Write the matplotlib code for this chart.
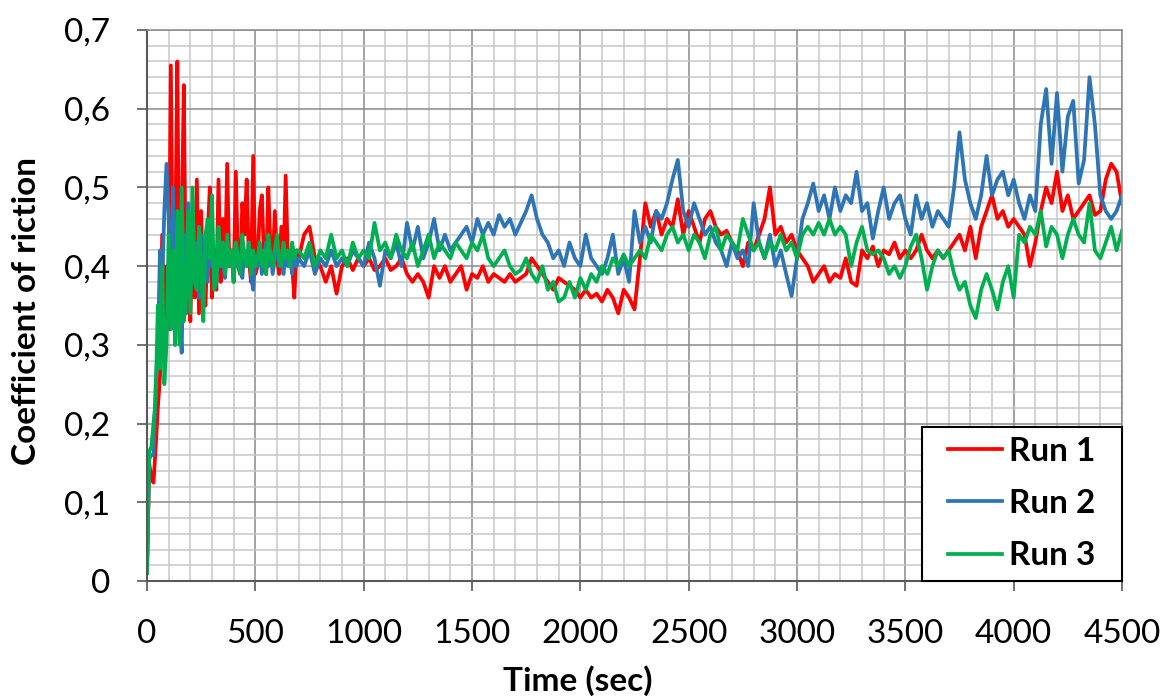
import matplotlib
matplotlib.use("Agg")
import matplotlib.pyplot as plt
import numpy as np
from matplotlib.ticker import MultipleLocator, FuncFormatter
from matplotlib.patches import Rectangle

# sampling grid (s): fine during the running-in phase, coarser afterwards
t_early = np.arange(0, 701, 10)
t_late = np.arange(725, 4501, 25)

run1_early = [0.01, 0.15, 0.13, 0.125, 0.17, 0.22, 0.26, 0.44, 0.28, 0.40,
              0.32, 0.655, 0.35, 0.42, 0.66, 0.32, 0.45, 0.63, 0.34, 0.40,
              0.33, 0.44, 0.36, 0.51, 0.34, 0.47, 0.36, 0.35, 0.44, 0.50,
              0.36, 0.42, 0.37, 0.51, 0.38, 0.46, 0.39, 0.53, 0.40, 0.42,
              0.38, 0.52, 0.40, 0.39, 0.48, 0.44, 0.51, 0.41, 0.38, 0.54,
              0.39, 0.40, 0.47, 0.49, 0.41, 0.39, 0.50, 0.42, 0.40, 0.47,
              0.41, 0.39, 0.45, 0.40, 0.515, 0.41, 0.42, 0.40, 0.36, 0.42,
              0.41]
run2_early = [0.01, 0.155, 0.16, 0.16, 0.25, 0.30, 0.42, 0.38, 0.47, 0.53,
              0.46, 0.32, 0.50, 0.30, 0.45, 0.36, 0.29, 0.44, 0.34, 0.48,
              0.37, 0.45, 0.38, 0.43, 0.36, 0.44, 0.39, 0.42, 0.38, 0.43,
              0.40, 0.41, 0.38, 0.42, 0.40, 0.41, 0.385, 0.42, 0.40, 0.41,
              0.39, 0.43, 0.40, 0.41, 0.385, 0.42, 0.40, 0.43, 0.39, 0.37,
              0.41, 0.40, 0.42, 0.39, 0.41, 0.43, 0.40, 0.42, 0.39, 0.41,
              0.43, 0.40, 0.41, 0.39, 0.42, 0.40, 0.41, 0.39, 0.42, 0.40,
              0.41]
run3_early = [0.01, 0.165, 0.17, 0.20, 0.23, 0.35, 0.27, 0.40, 0.25, 0.30,
              0.44, 0.32, 0.42, 0.30, 0.47, 0.30, 0.50, 0.33, 0.36, 0.47,
              0.34, 0.50, 0.38, 0.37, 0.45, 0.40, 0.33, 0.44, 0.46, 0.41,
              0.49, 0.37, 0.38, 0.45, 0.40, 0.43, 0.39, 0.44, 0.40, 0.42,
              0.38, 0.43, 0.41, 0.39, 0.44, 0.41, 0.40, 0.43, 0.39, 0.42,
              0.40, 0.41, 0.43, 0.40, 0.42, 0.39, 0.44, 0.41, 0.40, 0.42,
              0.44, 0.41, 0.40, 0.43, 0.41, 0.42, 0.40, 0.43, 0.41, 0.42,
              0.42]

run1_late = [0.44, 0.45, 0.41, 0.40, 0.38, 0.40, 0.365, 0.40,
             0.41, 0.395, 0.41, 0.40, 0.41, 0.395, 0.40, 0.41,
             0.395, 0.40, 0.41, 0.39, 0.38, 0.39, 0.38, 0.36,
             0.40, 0.385, 0.40, 0.38, 0.39, 0.40, 0.37, 0.39,
             0.385, 0.40, 0.38, 0.39, 0.385, 0.38, 0.39, 0.38,
             0.385, 0.39, 0.41, 0.40, 0.39, 0.38, 0.37, 0.385,
             0.38, 0.375, 0.37, 0.36, 0.37, 0.36, 0.365, 0.355,
             0.37, 0.36, 0.34, 0.37, 0.36, 0.345, 0.41, 0.48,
             0.45, 0.47, 0.44, 0.46, 0.45, 0.485, 0.44, 0.47,
             0.45, 0.43, 0.46, 0.47, 0.45, 0.44, 0.445, 0.43,
             0.42, 0.40, 0.43, 0.42, 0.44, 0.46, 0.50, 0.44,
             0.45, 0.43, 0.44, 0.42, 0.41, 0.40, 0.38, 0.39,
             0.40, 0.38, 0.39, 0.385, 0.41, 0.38, 0.375, 0.42,
             0.41, 0.425, 0.40, 0.42, 0.415, 0.43, 0.41, 0.42,
             0.41, 0.42, 0.44, 0.42, 0.41, 0.42, 0.41, 0.42,
             0.43, 0.44, 0.42, 0.45, 0.41, 0.45, 0.47, 0.49,
             0.46, 0.47, 0.45, 0.46, 0.45, 0.44, 0.40, 0.43,
             0.47, 0.50, 0.48, 0.52, 0.47, 0.49, 0.46, 0.47,
             0.48, 0.49, 0.465, 0.47, 0.51, 0.53, 0.52, 0.48]
run2_late = [0.40, 0.42, 0.39, 0.41, 0.40, 0.42, 0.40, 0.41,
             0.40, 0.42, 0.41, 0.40, 0.43, 0.41, 0.375, 0.42,
             0.41, 0.43, 0.40, 0.455, 0.42, 0.45, 0.41, 0.43,
             0.46, 0.42, 0.44, 0.42, 0.43, 0.44, 0.45, 0.43,
             0.46, 0.44, 0.455, 0.44, 0.465, 0.45, 0.46, 0.44,
             0.455, 0.47, 0.49, 0.46, 0.44, 0.43, 0.41, 0.42,
             0.40, 0.43, 0.41, 0.40, 0.44, 0.41, 0.40, 0.39,
             0.41, 0.44, 0.39, 0.41, 0.38, 0.47, 0.43, 0.45,
             0.43, 0.47, 0.46, 0.48, 0.51, 0.535, 0.47, 0.45,
             0.48, 0.46, 0.44, 0.45, 0.43, 0.42, 0.40, 0.43,
             0.41, 0.42, 0.40, 0.48, 0.43, 0.41, 0.44, 0.40,
             0.42, 0.39, 0.362, 0.41, 0.46, 0.48, 0.505, 0.47,
             0.49, 0.46, 0.50, 0.47, 0.49, 0.48, 0.52, 0.47,
             0.48, 0.435, 0.47, 0.50, 0.46, 0.48, 0.49, 0.46,
             0.44, 0.49, 0.46, 0.48, 0.45, 0.47, 0.46, 0.45,
             0.50, 0.57, 0.51, 0.48, 0.46, 0.49, 0.54, 0.49,
             0.51, 0.52, 0.49, 0.51, 0.48, 0.46, 0.49, 0.47,
             0.58, 0.625, 0.53, 0.62, 0.52, 0.59, 0.61, 0.505,
             0.535, 0.64, 0.58, 0.49, 0.47, 0.46, 0.47, 0.49]
run3_late = [0.41, 0.43, 0.40, 0.42, 0.41, 0.44, 0.41, 0.42,
             0.40, 0.43, 0.41, 0.42, 0.41, 0.455, 0.42, 0.43,
             0.41, 0.44, 0.42, 0.41, 0.43, 0.40, 0.42, 0.44,
             0.41, 0.43, 0.42, 0.41, 0.43, 0.42, 0.41, 0.43,
             0.42, 0.44, 0.41, 0.40, 0.41, 0.42, 0.40, 0.39,
             0.395, 0.41, 0.39, 0.38, 0.40, 0.37, 0.38, 0.355,
             0.36, 0.38, 0.36, 0.385, 0.37, 0.39, 0.38, 0.40,
             0.39, 0.41, 0.40, 0.415, 0.40, 0.41, 0.42, 0.41,
             0.44, 0.43, 0.42, 0.44, 0.45, 0.43, 0.44, 0.42,
             0.44, 0.43, 0.41, 0.44, 0.45, 0.42, 0.44, 0.43,
             0.42, 0.46, 0.44, 0.42, 0.43, 0.41, 0.43, 0.42,
             0.44, 0.42, 0.43, 0.41, 0.44, 0.45, 0.44, 0.455,
             0.44, 0.46, 0.44, 0.45, 0.44, 0.40, 0.43, 0.45,
             0.42, 0.415, 0.42, 0.41, 0.39, 0.40, 0.385, 0.40,
             0.425, 0.44, 0.41, 0.37, 0.40, 0.42, 0.41, 0.42,
             0.39, 0.37, 0.38, 0.35, 0.334, 0.37, 0.39, 0.37,
             0.345, 0.38, 0.40, 0.36, 0.44, 0.43, 0.45, 0.44,
             0.47, 0.425, 0.45, 0.44, 0.41, 0.44, 0.46, 0.44,
             0.43, 0.48, 0.42, 0.41, 0.43, 0.45, 0.42, 0.445]

labels = ["Run 1", "Run 2", "Run 3"]
colors = ["#FF0000", "#2E75B6", "#00B050"]

plt.rcParams['font.family'] = ['Lato', 'DejaVu Sans']

t = np.concatenate([t_early, t_late])
series = [run1_early + run1_late, run2_early + run2_late, run3_early + run3_late]

fig = plt.figure(figsize=(11.68, 6.96), dpi=100)
ax = fig.add_axes([147 / 1168, 115 / 696, 975 / 1168, 551 / 696])

for vals, lab, col in zip(series, labels, colors):
    ax.plot(t, vals, color=col, lw=2.7, label=lab)

ax.set_xlim(0, 4500)
ax.set_ylim(0, 0.7)
ax.xaxis.set_major_locator(MultipleLocator(500))
ax.xaxis.set_minor_locator(MultipleLocator(100))
ax.yaxis.set_major_locator(MultipleLocator(0.1))
ax.yaxis.set_minor_locator(MultipleLocator(0.02))
ax.yaxis.set_major_formatter(FuncFormatter(lambda v, _: ('%g' % round(v, 1)).replace('.', ',')))

ax.set_axisbelow(True)
ax.grid(which='minor', color='#C8C8C8', lw=1.1)
ax.grid(which='major', color='#8A8A8A', lw=1.1)

ax.tick_params(which='minor', length=0)
ax.tick_params(which='major', direction='out', length=7.5, width=1.2,
               color='#595959', labelsize=24)
ax.tick_params(axis='y', pad=19)
ax.tick_params(axis='x', pad=20)

for side in ['left', 'bottom']:
    ax.spines[side].set_color('#595959')
    ax.spines[side].set_linewidth(1.5)
for side in ['top', 'right']:
    ax.spines[side].set_color('#8A8A8A')
    ax.spines[side].set_linewidth(1.1)

fig.text(27 / 1168, 1 - 311 / 696, 'Coefficient of riction', rotation=90,
         ha='center', va='center', fontsize=24, fontweight='bold')
fig.text(578 / 1168, 1 - 681 / 696, 'Time (sec)',
         ha='center', va='center', fontsize=24, fontweight='bold')

# legend box drawn separately so its size matches the original
box = Rectangle((0.795, 0.0), 0.205, 0.28, transform=ax.transAxes,
                facecolor='white', edgecolor='black', lw=1.5,
                zorder=4, clip_on=False)
ax.add_patch(box)
leg = ax.legend(loc='upper left', bbox_to_anchor=(0.8215, 0.262),
                borderaxespad=0, borderpad=0, frameon=False,
                prop={'weight': 'bold', 'size': 24}, handlelength=1.62,
                handletextpad=0.2, labelspacing=0.7)
leg.set_zorder(5)

fig.savefig('out.png', dpi=100)
